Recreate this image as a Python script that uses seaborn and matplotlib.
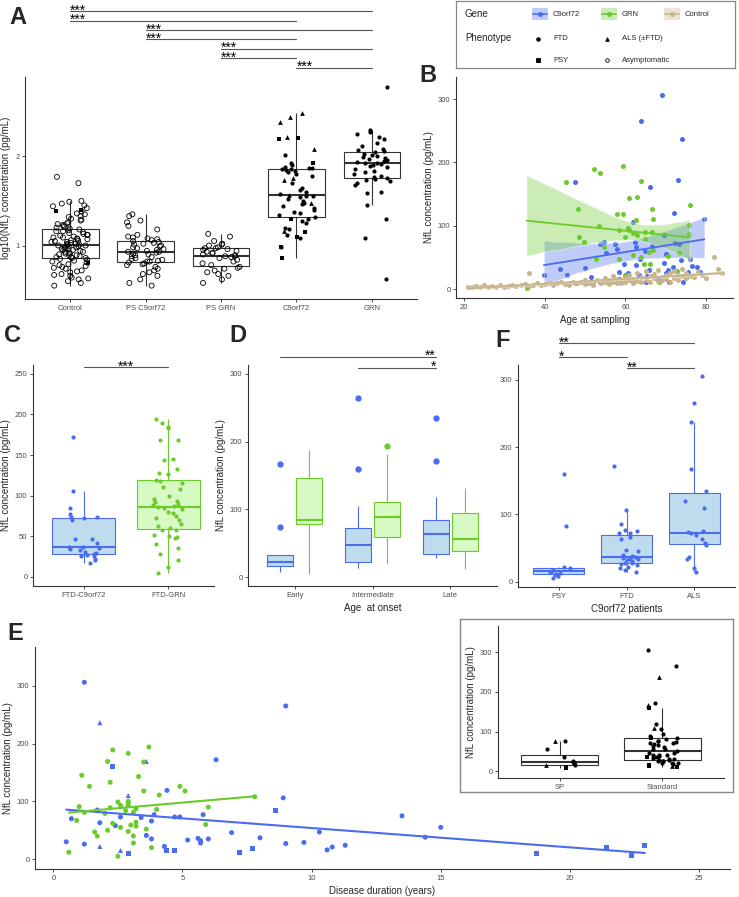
import numpy as np
import pandas as pd
import matplotlib.pyplot as plt
import matplotlib.transforms as mtransforms
from matplotlib.patches import Rectangle
from matplotlib.collections import PolyCollection
import seaborn as sns

sns.set_style('ticks')
plt.rcParams['font.family'] = ['Liberation Sans', 'DejaVu Sans']

W, H = 739, 897
BLUE = '#4A6CEE'
GREEN = '#6CCB2C'
TAN = '#C8B48C'
BLUE_FILL = '#BEDCEE'
GREEN_FILL = '#D7F9C4'
TICK_C = '#4D4D4D'
LINE_C = '#333333'

# ---------------- data ----------------
# A: log10 NfL per group and phenotype
a_groups = ['Control', 'PS C9orf72', 'PS GRN', 'C9orf72', 'GRN']
a_ctrl_asym = [0.55, 0.58, 0.60, 0.62, 0.63, 0.64, 0.66, 0.67, 0.68, 0.70, 0.71, 0.72, 0.74, 0.75, 0.76,
               0.77, 0.78, 0.79, 0.81, 0.82, 0.83, 0.84, 0.85, 0.86, 0.86, 0.87, 0.87, 0.88, 0.89,
               0.89, 0.90, 0.91, 0.91, 0.92, 0.93, 0.93, 0.94, 0.95, 0.95, 0.96, 0.96, 0.97, 0.98, 0.98,
               0.99, 0.99, 1.00, 1.00, 1.00, 1.01, 1.01, 1.02, 1.02, 1.03, 1.04, 1.04, 1.05, 1.05, 1.06,
               1.07, 1.07, 1.08, 1.09, 1.09, 1.10, 1.11, 1.12, 1.12, 1.13, 1.14, 1.15, 1.16, 1.16, 1.17,
               1.18, 1.19, 1.20, 1.21, 1.22, 1.23, 1.24, 1.25, 1.26, 1.28, 1.29, 1.30, 1.32, 1.33, 1.35,
               1.36, 1.38, 1.42, 1.44, 1.45, 1.47, 1.49, 1.50, 1.70, 1.77]
a_ctrl_psy = [1.40, 1.39, 0.80]
a_psc9_asym = [0.55, 0.58, 0.62, 0.66, 0.68, 0.70, 0.72, 0.74, 0.76, 0.78, 0.79, 0.80, 0.81, 0.82, 0.82,
               0.83, 0.84, 0.85, 0.86, 0.87, 0.88, 0.89, 0.90, 0.91, 0.92, 0.93, 0.93, 0.94, 0.95, 0.96,
               0.97, 0.98, 0.99, 1.00, 1.01, 1.02, 1.03, 1.04, 1.05, 1.06, 1.07, 1.08, 1.09, 1.10, 1.12,
               1.18, 1.22, 1.26, 1.28, 1.33, 1.35]
a_psgrn_asym = [0.58, 0.62, 0.66, 0.68, 0.70, 0.72, 0.74, 0.75, 0.76, 0.78, 0.80, 0.82, 0.84, 0.86, 0.87,
                0.88, 0.88, 0.89, 0.90, 0.91, 0.92, 0.93, 0.94, 0.95, 0.96, 0.97, 0.97, 0.98, 1.00, 1.01,
                1.02, 1.05, 1.10, 1.13]
a_c9_ftd = [2.02, 1.92, 1.90, 1.88, 1.87, 1.87, 1.86, 1.86, 1.85, 1.84, 1.82, 1.80, 1.78, 1.70, 1.65,
            1.62, 1.60, 1.58, 1.56, 1.55, 1.54, 1.52, 1.50, 1.48, 1.46, 1.44, 1.42, 1.40, 1.38, 1.36,
            1.34, 1.32, 1.30, 1.28, 1.25, 1.20, 1.18, 1.12, 1.08, 0.98]
a_c9_als = [2.49, 2.44, 2.38, 2.22, 2.08, 1.76, 1.74, 1.57, 1.48, 1.16]
a_c9_psy = [2.21, 2.19, 1.92, 1.30, 1.15, 1.10, 0.98, 0.86]
a_grn_ftd = [2.78, 2.29, 2.27, 2.25, 2.22, 2.20, 2.15, 2.12, 2.08, 2.07, 2.06, 2.05, 2.03, 2.01, 2.00,
             1.99, 1.98, 1.97, 1.96, 1.95, 1.94, 1.93, 1.92, 1.91, 1.90, 1.89, 1.88, 1.86, 1.84, 1.82,
             1.80, 1.78, 1.77, 1.76, 1.75, 1.73, 1.72, 1.70, 1.68, 1.60, 1.59, 1.45, 1.30, 1.08, 0.62]

# B: (age at sampling, NfL pg/mL)
b_c9 = [(69, 306), (64, 266), (74, 237), (47.5, 169), (73, 173), (66, 161), (72, 120), (79.6, 111),
        (62, 106), (53.6, 72), (54.7, 74), (57.5, 72), (58, 63), (55.2, 57), (62.3, 75), (62.6, 66),
        (64.9, 61), (66.5, 68), (69.6, 86), (72.2, 73), (73.2, 72), (63.6, 48), (70, 56), (73.7, 46),
        (76, 47), (76.5, 37), (77.7, 35), (71.7, 35), (69.6, 41), (70.5, 30), (65.9, 30), (59.6, 40),
        (62.6, 38), (58.5, 27), (60.7, 26), (63.3, 22), (65.3, 21), (67.4, 18), (70, 26), (75.5, 27),
        (39.8, 22), (43.7, 32), (50.1, 34), (51.6, 19), (45.6, 23), (47.7, 10), (53.6, 11), (58.5, 16),
        (61.8, 13), (65.1, 12), (68.4, 15), (70.9, 11), (74.2, 12), (78.4, 27)]
b_grn = [(59.5, 195), (52.2, 190), (53.7, 183), (45.4, 169), (64, 170), (61, 144), (63, 145), (76, 133),
         (48.3, 127), (66.7, 127), (58, 119), (59.3, 119), (66.9, 111), (53.4, 99), (62.6, 109),
         (60.7, 97), (61, 93), (58.5, 93), (64.8, 91), (66.7, 91), (61.8, 88), (62.8, 85), (60, 82),
         (75.8, 101), (75.9, 87), (48.6, 82), (49.8, 75), (64.8, 79), (54.7, 67), (52.6, 47), (58.5, 48),
         (61.8, 54), (63.8, 51), (65.9, 59), (66.9, 62), (70.5, 53), (73.2, 57), (64.7, 40), (66, 40),
         (72.7, 28), (60, 22), (68.4, 12), (35.5, 2)]
b_ctrl = [(21, 4), (22, 3), (23, 5), (24, 4), (25, 6), (26, 3), (27, 5), (28, 4), (29, 6), (30, 4), (31, 5),
          (32, 7), (33, 5), (34, 6), (35, 8), (36, 5), (36, 26), (37, 7), (38, 9), (39, 6), (40, 8), (41, 10),
          (42, 7), (43, 9), (44, 11), (45, 8), (46, 10), (46, 6), (47, 12), (48, 9), (49, 11), (50, 8),
          (50, 14), (51, 10), (52, 12), (52, 7), (53, 15), (54, 9), (54, 13), (55, 11), (55, 17), (56, 8),
          (56, 14), (57, 12), (57, 20), (58, 10), (58, 16), (59, 13), (59, 9), (60, 18), (60, 11), (61, 14),
          (61, 22), (62, 10), (62, 16), (63, 13), (63, 25), (64, 12), (64, 19), (65, 15), (65, 28), (66, 11),
          (66, 21), (67, 17), (67, 24), (68, 13), (68, 30), (69, 19), (69, 14), (70, 22), (70, 16), (71, 26),
          (71, 12), (72, 18), (72, 29), (73, 15), (73, 23), (74, 20), (74, 32), (75, 17), (75, 25), (76, 21),
          (77, 19), (78, 27), (79, 22), (80, 18), (82, 51), (83, 32), (84, 25)]

# C: NfL in FTD patients
c_groups = ['FTD-C9orf72', 'FTD-GRN']
c_c9 = [172, 106, 85, 77, 73, 74, 72, 70, 47, 46, 41, 37, 36, 35, 34, 33, 30, 29, 28, 27, 26, 25, 22, 20, 17]
c_grn = [195, 190, 185, 183, 169, 168, 145, 144, 133, 128, 126, 119, 118, 115, 111, 108, 100, 96, 93, 92,
         90, 88, 87, 86, 85, 84, 80, 78, 75, 72, 70, 65, 62, 60, 58, 57, 52, 50, 49, 48, 40, 35, 28, 20, 12, 5]

# D: NfL by age at onset
d_onsets = ['Early', 'Intermediate', 'Late']
d_c9 = {'Early': [8, 14, 16, 18, 20, 22, 26, 33, 33, 74, 167],
        'Intermediate': [13, 16, 20, 22.6, 35, 42, 48, 55, 62, 72, 105, 160, 265],
        'Late': [28, 30, 33, 34, 45, 55, 63, 70, 80, 85, 118, 171, 235]}
d_grn = {'Early': [4.5, 70, 78, 82, 85, 120, 147, 170, 188],
         'Intermediate': [20, 45, 55, 60, 70, 80, 89, 95, 105, 111, 150, 182, 194],
         'Late': [12, 30, 39, 48, 56, 75, 94, 110, 132]}

# F: C9orf72 patients by phenotype
f_groups = ['PSY', 'FTD', 'ALS']
f_psy = [160, 83, 22, 20, 18, 16, 15, 13, 12, 10, 8, 5]
f_ftd = [172, 106, 85, 77, 75, 73, 72, 66, 63, 47, 45, 40, 38, 36, 35, 34, 33, 32, 30, 28, 27, 26, 24,
         22, 20, 17, 15]
f_als = [305, 265, 237, 168, 135, 120, 110, 75, 74, 72, 70, 63, 57, 55, 37, 34, 20, 14]

# E: (disease duration, NfL)
e_c9_ftd = [(1.2, 306), (9.0, 265), (6.3, 172), (4.4, 119), (8.9, 106), (1.7, 85), (0.7, 70), (1.8, 63),
            (2.6, 73), (3.4, 72), (3.8, 66), (3.9, 77), (4.7, 73), (4.9, 73), (5.8, 77), (2.4, 58),
            (3.6, 41), (3.8, 35), (6.9, 46), (8.0, 37), (5.2, 33), (5.6, 36), (5.7, 32), (5.7, 28),
            (6.0, 35), (0.5, 30), (1.2, 26), (4.3, 22), (9.0, 27), (9.7, 29), (10.3, 47), (10.6, 16),
            (10.8, 21), (11.3, 24), (13.5, 75), (14.4, 38), (15.0, 55)]
e_c9_als = [(1.8, 236), (3.6, 169), (2.9, 110), (1.8, 22), (2.6, 15)]
e_c9_psy = [(2.3, 161), (8.6, 84), (2.9, 10), (4.4, 15), (4.7, 15), (7.2, 12), (7.7, 18), (18.7, 10),
            (21.4, 20), (22.4, 7), (22.9, 24)]
e_grn_ftd = [(3.7, 194), (2.3, 189), (2.9, 183), (2.1, 169), (3.5, 168), (1.1, 145), (3.3, 143),
             (2.2, 133), (1.4, 126), (4.9, 126), (5.1, 118), (3.5, 118), (4.1, 111), (7.8, 108), (2.5, 99),
             (2.9, 100), (2.9, 97), (2.9, 93), (1.0, 91), (2.6, 93), (6.0, 90), (2.2, 89), (3.2, 87),
             (4.0, 86), (2.8, 84), (1.2, 81), (3.1, 81), (2.0, 79), (0.9, 67), (2.3, 62), (3.2, 64),
             (5.9, 60), (3.0, 59), (2.6, 55), (3.2, 57), (3.6, 52), (2.1, 50), (1.6, 47), (2.9, 48),
             (1.7, 40), (3.1, 40), (3.1, 28), (3.8, 20), (0.6, 12), (2.5, 5)]

# inset: SP vs Standard
in_groups = ['SP', 'Standard']
in_sp = {'FTD': [75, 55, 37, 27, 24, 22, 20, 16], 'ALS': [75, 15], 'PSY': [10, 7]}
in_std = {'FTD': [305, 265, 172, 120, 106, 85, 82, 76, 75, 73, 72, 70, 68, 66, 63, 60, 57, 55, 52, 47,
                  45, 42, 40, 40, 38, 36, 35, 33, 32, 30, 28, 28, 27, 25, 25, 22, 22, 20, 18, 88, 95],
          'ALS': [237, 168, 110, 14], 'PSY': [160, 85, 35, 15, 12, 10]}

# ---------------- helpers ----------------
fig = plt.figure(figsize=(W / 100, H / 100), dpi=100)
np.random.seed(7)


def px_rect(x0, y0, x1, y1):
    return [x0 / W, 1 - y1 / H, (x1 - x0) / W, (y1 - y0) / H]


def style(ax):
    sns.despine(ax=ax)
    for s in ('left', 'bottom'):
        ax.spines[s].set_color(LINE_C)
        ax.spines[s].set_linewidth(0.8)
    ax.tick_params(length=2.5, width=0.6, color=LINE_C, labelsize=5.5, labelcolor=TICK_C, pad=1.5)
    ax.set_xlabel('')
    ax.set_ylabel('')


def bracket(ax, x0, x1, ypx, label, ha='left'):
    tr = mtransforms.blended_transform_factory(ax.transData, fig.transFigure)
    yf = 1 - ypx / H
    ax.plot([x0, x1], [yf, yf], color='#555555', lw=0.8, transform=tr, clip_on=False)
    tx = {'left': x0, 'right': x1, 'center': (x0 + x1) / 2}[ha]
    ax.text(tx, 1 - (ypx + 3.5) / H, label, transform=tr, ha=ha, va='baseline', fontsize=10,
            color='black')


def letter(x, y, s):
    fig.text(x / W, 1 - y / H, s, fontsize=17, fontweight='bold', ha='left', va='center')


def box_kw(lc):
    return dict(linecolor=lc, linewidth=0.8, width=0.75, showcaps=False, saturation=1,
                medianprops=dict(linewidth=1.5))


def long(groups):
    rows = []
    for g, ph, vals in groups:
        rows += [(g, ph, v) for v in vals]
    return pd.DataFrame(rows, columns=['group', 'pheno', 'val'])


# ---------------- A ----------------
dfA = long([('Control', 'Asymptomatic', a_ctrl_asym), ('Control', 'PSY', a_ctrl_psy),
            ('PS C9orf72', 'Asymptomatic', a_psc9_asym), ('PS GRN', 'Asymptomatic', a_psgrn_asym),
            ('C9orf72', 'FTD', a_c9_ftd), ('C9orf72', 'ALS', a_c9_als), ('C9orf72', 'PSY', a_c9_psy),
            ('GRN', 'FTD', a_grn_ftd)])
axA = fig.add_axes(px_rect(25, 77, 417, 299))
sns.boxplot(data=dfA, x='group', y='val', order=a_groups, color='white', showfliers=False, ax=axA,
            **box_kw(LINE_C))
sns.stripplot(data=dfA[dfA.pheno == 'Asymptomatic'], x='group', y='val', order=a_groups, jitter=0.25,
              size=3.6, color='black', facecolor='none', edgecolor='black', linewidth=0.6, ax=axA)
for ph, mk, sz in [('FTD', 'o', 3.0), ('ALS', '^', 3.4), ('PSY', 's', 3.0)]:
    sns.stripplot(data=dfA[dfA.pheno == ph], x='group', y='val', order=a_groups, jitter=0.25,
                  marker=mk, size=sz, color='black', linewidth=0, ax=axA)
style(axA)
axA.set_xlim(-0.6, 4.6)
axA.set_ylim(0.40, 2.89)
axA.set_yticks([1, 2])
axA.set_ylabel('log10(NfL) concentration (pg/mL)', fontsize=7, labelpad=3)
for i0, i1, y in [(0, 4, 11), (0, 3, 20.7), (1, 4, 30), (1, 3, 39.3), (2, 4, 48.7), (2, 3, 58.3),
                  (3, 4, 67.7)]:
    bracket(axA, i0, i1, y, '***')

# ---------------- B ----------------
axB = fig.add_axes(px_rect(456, 77, 733, 298))
for pairs, col in [(b_c9, BLUE), (b_grn, GREEN), (b_ctrl, TAN)]:
    ages = [p[0] for p in pairs]
    vals = [p[1] for p in pairs]
    sns.regplot(x=ages, y=vals, color=col, ci=95, seed=1, ax=axB,
                scatter_kws=dict(s=13, linewidths=0, alpha=1), line_kws=dict(lw=1.3))
for coll in axB.collections:
    if isinstance(coll, PolyCollection):
        coll.set_alpha(0.35)
style(axB)
axB.set_xlim(18, 86.7)
axB.set_ylim(-14, 335)
axB.set_xticks([20, 40, 60, 80])
axB.set_yticks([0, 100, 200, 300])
axB.set_xlabel('Age at sampling', fontsize=7, labelpad=3)
axB.set_ylabel('NfL concentration (pg/mL)', fontsize=7, labelpad=3)

# legend box
axL = fig.add_axes(px_rect(456, 1, 735, 68))
axL.set_xlim(456, 735)
axL.set_ylim(68, 1)
axL.set_xticks([])
axL.set_yticks([])
for s in axL.spines.values():
    s.set_color('#888888')
    s.set_linewidth(0.9)
axL.text(465, 14, 'Gene', fontsize=7, va='center')
axL.text(465, 38, 'Phenotype', fontsize=7, va='center')
for x0, col, lab in [(532, BLUE, 'C9orf72'), (601, GREEN, 'GRN'), (664, TAN, 'Control')]:
    axL.add_patch(Rectangle((x0, 8), 16, 12, facecolor=col, alpha=0.35, edgecolor='none'))
    axL.plot([x0 + 1, x0 + 15], [14, 14], color=col, lw=1.2)
    axL.plot([x0 + 8], [14], 'o', color=col, ms=2.5)
    axL.text(x0 + 21, 14, lab, fontsize=5.5, va='center')
for x0, y0, mk, lab in [(538, 39, 'o', 'FTD'), (607, 39, '^', 'ALS (\u00b1FTD)'), (538, 60, 's', 'PSY'),
                        (607, 60, 'o', 'Asymptomatic')]:
    fc = 'none' if lab == 'Asymptomatic' else 'black'
    axL.plot([x0], [y0], mk, ms=2.6, mfc=fc, mec='black', mew=0.6)
    axL.text(x0 + 15, y0, lab, fontsize=5.5, va='center')

# ---------------- C ----------------
dfC = long([('FTD-C9orf72', 'FTD', c_c9), ('FTD-GRN', 'FTD', c_grn)])
axC = fig.add_axes(px_rect(33, 365, 214, 586))
for g, fill, col in [('FTD-C9orf72', BLUE_FILL, BLUE), ('FTD-GRN', GREEN_FILL, GREEN)]:
    sub = dfC[dfC.group == g]
    sns.boxplot(data=sub, x='group', y='val', order=c_groups, color=fill, showfliers=False, ax=axC,
                **box_kw(col))
    sns.stripplot(data=sub, x='group', y='val', order=c_groups, jitter=0.18, size=3, color=col,
                  linewidth=0, ax=axC)
style(axC)
axC.set_xlim(-0.6, 1.54)
axC.set_ylim(-11.5, 261)
axC.set_yticks([0, 50, 100, 150, 200, 250])
axC.set_ylabel('NfL concentration (pg/mL)', fontsize=7, labelpad=3)
bracket(axC, 0, 1, 367, '***', ha='center')

# ---------------- D ----------------
rows = []
for gene, dct in [('C9orf72', d_c9), ('GRN', d_grn)]:
    for onset in d_onsets:
        rows += [(gene, onset, v) for v in dct[onset]]
dfD = pd.DataFrame(rows, columns=['gene', 'onset', 'val'])
axD = fig.add_axes(px_rect(248, 365, 497, 586))
for gene, fill, col in [('C9orf72', BLUE_FILL, BLUE), ('GRN', GREEN_FILL, GREEN)]:
    sns.boxplot(data=dfD[dfD.gene == gene], x='onset', y='val', order=d_onsets, hue='gene',
                hue_order=['C9orf72', 'GRN'], palette={'C9orf72': BLUE_FILL, 'GRN': GREEN_FILL},
                dodge=True, gap=0.1, legend=False, ax=axD,
                flierprops=dict(marker='o', markerfacecolor=col, markeredgecolor=col, markersize=3.5),
                **box_kw(col))
style(axD)
axD.set_xlim(-0.6, 2.6)
axD.set_ylim(-13, 313)
axD.set_yticks([0, 100, 200, 300])
axD.set_xlabel('Age  at onset', fontsize=7, labelpad=3)
axD.set_ylabel('NfL concentration (pg/mL)', fontsize=7, labelpad=3)
bracket(axD, -0.1875, 2 - 0.1875, 356.7, '**', ha='right')
bracket(axD, 1 - 0.1875, 2 - 0.1875, 367.7, '*', ha='right')

# ---------------- F ----------------
dfF = long([('PSY', 'PSY', f_psy), ('FTD', 'FTD', f_ftd), ('ALS', 'ALS', f_als)])
axF = fig.add_axes(px_rect(518, 365, 735, 587))
sns.boxplot(data=dfF, x='group', y='val', order=f_groups, color=BLUE_FILL, showfliers=False, ax=axF,
            **box_kw(BLUE))
sns.stripplot(data=dfF, x='group', y='val', order=f_groups, jitter=0.18, size=3, color=BLUE,
              linewidth=0, ax=axF)
style(axF)
axF.set_xlim(-0.6, 2.6)
axF.set_ylim(-8, 322)
axF.set_yticks([0, 100, 200, 300])
axF.set_xlabel('C9orf72 patients', fontsize=7, labelpad=3)
bracket(axF, 0, 2, 343, '**')
bracket(axF, 0, 1, 357, '*')
bracket(axF, 1, 2, 368, '**')

# ---------------- E ----------------
rows = []
for gene, ph, pairs in [('C9orf72', 'FTD', e_c9_ftd), ('C9orf72', 'ALS', e_c9_als),
                        ('C9orf72', 'PSY', e_c9_psy), ('GRN', 'FTD', e_grn_ftd)]:
    rows += [(gene, ph, p[0], p[1]) for p in pairs]
dfE = pd.DataFrame(rows, columns=['gene', 'pheno', 'dur', 'val'])
axE = fig.add_axes(px_rect(35, 647, 730, 869))
sns.scatterplot(data=dfE, x='dur', y='val', hue='gene', style='pheno',
                palette={'C9orf72': BLUE, 'GRN': GREEN}, markers={'FTD': 'o', 'ALS': '^', 'PSY': 's'},
                s=13, linewidth=0, legend=False, ax=axE)
for gene, col in [('C9orf72', BLUE), ('GRN', GREEN)]:
    sub = dfE[dfE.gene == gene]
    sns.regplot(data=sub, x='dur', y='val', scatter=False, ci=None, color=col,
                line_kws=dict(lw=1.5), ax=axE)
style(axE)
axE.set_xlim(-0.71, 26.2)
axE.set_ylim(-17, 367)
axE.set_xticks([0, 5, 10, 15, 20, 25])
axE.set_yticks([0, 100, 200, 300])
axE.set_xlabel('Disease duration (years)', fontsize=7, labelpad=3)
axE.set_ylabel('NfL concentration (pg/mL)', fontsize=7, labelpad=3)

# ---------------- inset ----------------
axFrame = fig.add_axes(px_rect(460, 619, 733, 792))
axFrame.set_xticks([])
axFrame.set_yticks([])
for s in axFrame.spines.values():
    s.set_color('#888888')
    s.set_linewidth(1.0)
rows = []
for g, dct in [('SP', in_sp), ('Standard', in_std)]:
    for ph, vals in dct.items():
        rows += [(g, ph, v) for v in vals]
dfI = pd.DataFrame(rows, columns=['group', 'pheno', 'val'])
axI = fig.add_axes(px_rect(498, 626, 724, 778))
sns.boxplot(data=dfI, x='group', y='val', order=in_groups, color='white', showfliers=False, ax=axI,
            **box_kw(LINE_C))
for ph, mk, sz in [('FTD', 'o', 3.0), ('ALS', '^', 3.4), ('PSY', 's', 3.0)]:
    sns.stripplot(data=dfI[dfI.pheno == ph], x='group', y='val', order=in_groups, jitter=0.16,
                  marker=mk, size=sz, color='black', linewidth=0, ax=axI)
style(axI)
axI.set_xlim(-0.6, 1.6)
axI.set_ylim(-17, 366)
axI.set_yticks([0, 100, 200, 300])
axI.set_ylabel('NfL concentration (pg/mL)', fontsize=7, labelpad=3)

# panel letters
letter(9, 18, 'A')
letter(419, 76, 'B')
letter(4, 335, 'C')
letter(229, 335, 'D')
letter(495, 340, 'F')
letter(7, 633, 'E')

fig.savefig('out.png', dpi=100)
